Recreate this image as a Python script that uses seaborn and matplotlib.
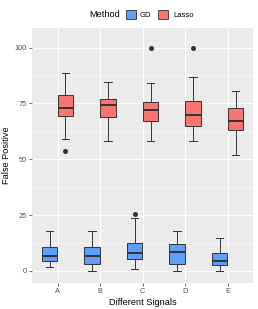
import numpy as np
import pandas as pd
import seaborn as sns
import matplotlib.pyplot as plt
from matplotlib.patches import Patch

# values (9 samples per box, chosen to hit the box stats)
signals = ['A', 'B', 'C', 'D', 'E']
methods = ['GD', 'Lasso']

gd_values = [
    [1.9, 3.0, 4.3, 6.0, 6.9, 9.0, 10.9, 14.0, 17.9],
    [0.0, 1.5, 3.0, 5.0, 6.9, 9.0, 10.9, 14.0, 17.9],
    [0.9, 3.0, 5.2, 7.0, 8.1, 10.0, 12.7, 23.5, 25.3],
    [0.0, 1.5, 3.0, 6.0, 8.6, 10.0, 11.9, 15.0, 17.9],
    [0.0, 1.5, 2.8, 4.0, 4.6, 6.0, 7.9, 11.0, 14.8],
]
lasso_values = [
    [53.8, 58.9, 69.4, 71.0, 72.8, 75.0, 78.6, 84.0, 88.7],
    [58.2, 63.0, 68.8, 72.0, 74.4, 75.5, 76.8, 80.0, 84.7],
    [58.2, 63.0, 67.0, 70.0, 71.9, 74.0, 75.8, 84.0, 100.0],
    [58.2, 61.0, 64.9, 67.0, 69.8, 73.0, 76.2, 86.7, 100.0],
    [51.9, 58.0, 63.1, 65.0, 67.1, 70.0, 72.8, 76.0, 80.7],
]
palette = {'GD': '#619CFF', 'Lasso': '#F8766D'}

rows = []
for sig, gd, la in zip(signals, gd_values, lasso_values):
    rows += [(sig, 'GD', v) for v in gd]
    rows += [(sig, 'Lasso', v) for v in la]
df = pd.DataFrame(rows, columns=['signal', 'method', 'fp'])

plt.rcParams['font.family'] = ['Liberation Sans', 'DejaVu Sans']

fig = plt.figure(figsize=(2.58, 3.09), dpi=100)
ax = fig.add_axes([0.124, 0.084, 0.857, 0.825])
ax.set_facecolor('#EBEBEB')

line_col = '#333333'
sns.boxplot(
    data=df, x='signal', y='fp', hue='method',
    order=signals, hue_order=methods, palette=palette, saturation=1,
    width=0.75, gap=0.04, dodge=True, legend=False,
    linecolor=line_col, linewidth=0.7,
    medianprops=dict(color=line_col, linewidth=1.4),
    flierprops=dict(marker='o', markersize=2.6, markerfacecolor=line_col,
                    markeredgecolor=line_col),
    ax=ax
)

ax.set_xlim(-0.6, 4.6)
ax.set_ylim(-5.4, 108.7)
ax.set_yticks([0, 25, 50, 75, 100])
ax.set_yticks([12.5, 37.5, 62.5, 87.5], minor=True)
ax.grid(which='major', color='white', linewidth=0.8)
ax.grid(which='minor', axis='y', color='white', linewidth=0.4)
ax.set_axisbelow(True)
for s in ax.spines.values():
    s.set_visible(False)
ax.tick_params(axis='both', which='major', length=2, width=0.5, color='#333333',
               labelsize=5.3, labelcolor='#4D4D4D', pad=1.5)
ax.tick_params(which='minor', length=0)

ax.set_xlabel('Different Signals', fontsize=6.6, labelpad=2)
ax.set_ylabel('False Positive', fontsize=6.6, labelpad=3)

# legend on top, title to the left of the keys
fig.text(0.345, 0.952, 'Method', fontsize=6.6, ha='left', va='center')
handles = [Patch(facecolor=palette[m], edgecolor=line_col, linewidth=0.6, label=m)
           for m in methods]
fig.legend(handles=handles, loc='center left', bbox_to_anchor=(0.475, 0.952),
           ncol=2, frameon=False, fontsize=5.5, handlelength=1.3, handleheight=1.3,
           handletextpad=0.6, columnspacing=0.9, borderaxespad=0)

fig.savefig('out.png', dpi=100)
